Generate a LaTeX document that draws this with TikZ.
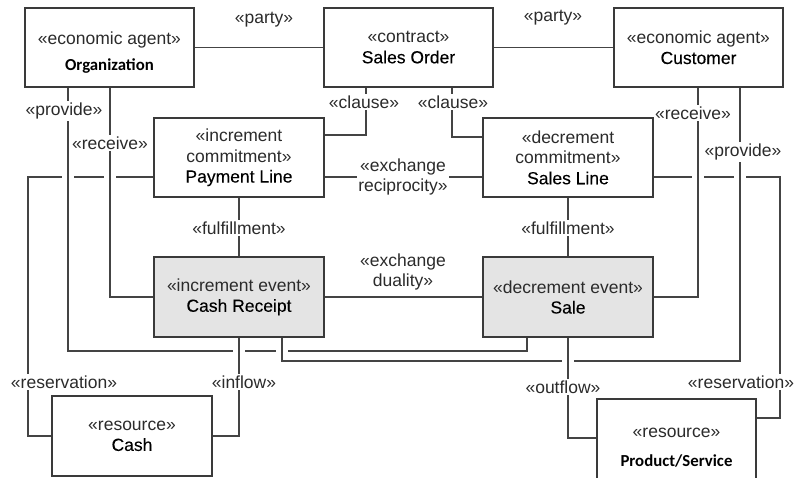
\documentclass[tikz,border=0pt]{standalone}
\usepackage{fontspec}
\setmainfont{Liberation Sans}
\newfontfamily\calfont{Carlito}
\newfontfamily\heavyfont{Liberation Sans}[FakeBold=0.15]
\usetikzlibrary{backgrounds}
\definecolor{ink}{HTML}{2B2B2B}
\definecolor{edge}{HTML}{3A3A3A}
\definecolor{wire}{HTML}{444444}
\definecolor{evfill}{HTML}{E4E4E4}
\newcommand\umlfont{\fontsize{17.5}{20.5}\selectfont}
\newcommand\namefont{\calfont\bfseries\fontsize{16.8}{20}\selectfont}
\newcommand\nm[1]{{\heavyfont\color{black}#1}}
\pgfdeclarelayer{links}
\pgfsetlayers{links,main}
\begin{document}
\begin{tikzpicture}[x=1pt, y=-1pt,
  every node/.style={text=ink},
  box/.style={draw=edge, line width=1.2pt, fill=white, inner sep=0pt,
    align=center, font=\umlfont},
  event/.style={box, fill=evfill},
  link/.style={draw=wire, line width=1.2pt},
  cross/.style={link, preaction={draw=white, line width=12pt}},
  tag/.style={fill=white, inner sep=1.5pt, align=center, font=\umlfont},
  plain/.style={tag, fill=none}]
\useasboundingbox (0,0) rectangle (795,477);

% classes
\node[box, minimum width=169pt, minimum height=79pt] (org) at (109.5,47.5)
  {\rule{0pt}{23pt}«economic agent»\\[5pt]{\namefont\color{black}Organization}};
\node[box, minimum width=169pt, minimum height=79pt] (so) at (408.5,47.5)
  {«contract»\\\nm{Sales Order}};
\node[box, minimum width=169pt, minimum height=79pt] (cust) at (698.5,47.5)
  {«economic agent»\\\nm{Customer}};
\node[box, minimum width=170pt, minimum height=79pt] (pay) at (239,157.5)
  {«increment\\commitment»\\\nm{Payment Line}};
\node[box, minimum width=170pt, minimum height=79pt] (sline) at (568,157.5)
  {«decrement\\commitment»\\\nm{Sales Line}};
\node[event, minimum width=170pt, minimum height=80pt] (crec) at (239,297)
  {«increment event»\\\nm{Cash Receipt}};
\node[event, minimum width=170pt, minimum height=80pt] (sale) at (568,297)
  {«decrement event»\\\nm{Sale}};
\node[box, minimum width=160pt, minimum height=80pt] (cash) at (132,436)
  {«resource»\\\nm{Cash}};
\node[box, minimum width=159pt, minimum height=90pt] (prod) at (676.5,444)
  {\rule{0pt}{17pt}«resource»\\[9pt]{\namefont\color{black}Product/Service}};

% associations, behind the classes
\begin{pgfonlayer}{links}
\draw[link] (org.east) -- (so.west);
\draw[link] (so.east) -- (cust.west);
\draw[link] (so.south -| 366,0) |- (pay.east |- 0,135);
\draw[link] (so.south -| 452,0) |- (sline.west |- 0,137);
\draw[link] (pay.east |- 0,177) -- (sline.west |- 0,177);
\draw[link] (pay.south) -- (crec.north);
\draw[link] (sline.south) -- (sale.north);
\draw[link] (crec.east) -- (sale.west);
\draw[link] (pay.west |- 0,177) -- (28,177) |- (cash.west);
\draw[link] (sline.east |- 0,177) -- (780,177) |- (prod.east |- 0,418);
% lines that jump over others
\draw[cross] (org.south -| 110,0) |- (crec.west);
\draw[cross] (org.south -| 68,0) -- (68,351) -| (sale.south -| 527,0);
\draw[cross] (cust.south -| 698,0) |- (sale.east);
\draw[cross] (crec.south -| 282,0) |- (740,361) -- (cust.south -| 740,0);
\draw[cross] (crec.south) |- (cash.east);
\draw[cross] (sale.south) |- (prod.west |- 0,438);
\end{pgfonlayer}

% stereotype labels
\node[plain] (partyL) at (264,20) {«party»};
\node[plain] (partyR) at (553,18) {«party»};
\node[tag] (clauseL) at (364,102) {«clause»};
\node[tag] (clauseR) at (453,102) {«clause»};
\node[tag] (recip) at (403,177) {«exchange\\reciprocity»};
\node[tag] (fulL) at (239,228) {«fulfillment»};
\node[tag] (fulR) at (568,228) {«fulfillment»};
\node[plain] (dual) at (403,272) {«exchange\\duality»};
\node[tag] (provL) at (64,111) {«provide»};
\node[tag] (recvL) at (110,143) {«receive»};
\node[tag] (recvR) at (693,113) {«receive»};
\node[tag] (provR) at (743,152) {«provide»};
\node[tag] (resL) at (64,382) {«reservation»};
\node[tag] (inflow) at (244,382) {«inflow»};
\node[tag] (outflow) at (563,387) {«outflow»};
\node[tag] (resR) at (741,382) {«reservation»};
\end{tikzpicture}
\end{document}
